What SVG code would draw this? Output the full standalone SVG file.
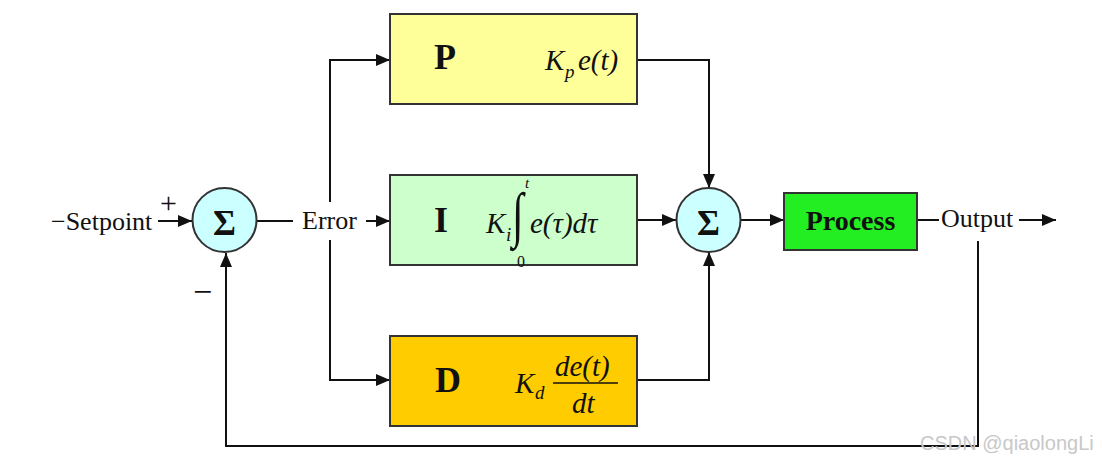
<svg xmlns="http://www.w3.org/2000/svg" width="1102" height="462" viewBox="0 0 1102 462">
<style>
text{font-family:"Liberation Serif","Times New Roman",serif;fill:#111}
.lbl{font-size:26px}
.big{font-size:36px;font-weight:bold}
.sig{font-size:35px;font-weight:bold}
.it{font-style:italic;font-size:29px}
.sub{font-style:italic;font-size:19px}
.box{stroke:#333;stroke-width:2}
.ln{fill:none;stroke:#111;stroke-width:2}
.sum{fill:#ccffff;stroke:#333;stroke-width:2}
</style>
<defs>
<marker id="ahb" viewBox="0 0 14 12" refX="14" refY="6" markerWidth="14" markerHeight="12" markerUnits="userSpaceOnUse" orient="auto">
<path d="M0,0 L14,6 L0,12 z" fill="#111"/>
</marker>
</defs>
<rect width="1102" height="462" fill="#fff"/>
<g id="connectors">
<line class="ln" x1="158" y1="221" x2="192" y2="221" marker-end="url(#ahb)"/>
<line class="ln" x1="257" y1="221" x2="293" y2="221"/>
<line class="ln" x1="366" y1="221" x2="390" y2="221" marker-end="url(#ahb)"/>
<polyline class="ln" points="330,240 330,380 390,380" marker-end="url(#ahb)"/>
<polyline class="ln" points="330,202 330,60 390,60" marker-end="url(#ahb)"/>
<polyline class="ln" points="637,60 709,60 709,188" marker-end="url(#ahb)"/>
<line class="ln" x1="637" y1="220" x2="676" y2="220" marker-end="url(#ahb)"/>
<polyline class="ln" points="637,380 709,380 709,252" marker-end="url(#ahb)"/>
<line class="ln" x1="741" y1="220" x2="784" y2="220" marker-end="url(#ahb)"/>
<line class="ln" x1="917" y1="220" x2="939" y2="220"/>
<line class="ln" x1="1019" y1="220" x2="1056" y2="220" marker-end="url(#ahb)"/>
<polyline class="ln" points="978,241 978,446 226,446 226,253" marker-end="url(#ahb)"/>
</g>
<g id="setpoint"><text class="lbl" x="51" y="230">−Setpoint</text><text style="font-size:30px" x="160" y="213">+</text><text style="font-size:34px" x="193" y="303">−</text></g>
<g id="sum1"><circle class="sum" cx="224.5" cy="220" r="32"/><text class="sig" x="224.5" y="235" text-anchor="middle">Σ</text></g>
<g id="error"><text class="lbl" x="302" y="229">Error</text></g>
<g id="P">
<rect class="box" x="390" y="14" width="247" height="90" fill="#ffff99"/>
<text class="big" x="434" y="69">P</text>
<text class="it" x="545" y="70">K</text><text class="sub" x="565" y="78">p</text><text class="it" x="578" y="70">e(t)</text>
</g>
<g id="I">
<rect class="box" x="390" y="175" width="247" height="90" fill="#ccffcc"/>
<text class="big" x="434" y="232">I</text>
<text class="it" x="486" y="233">K</text><text class="sub" x="506" y="241">i</text>
<text transform="translate(512,235) scale(1,1.45)" style="font-size:42px">∫</text>
<text style="font-size:15px;font-style:italic" x="525" y="188">t</text>
<text style="font-size:16px" x="517" y="267">0</text>
<text class="it" x="530" y="233">e(τ)dτ</text>
</g>
<g id="D">
<rect class="box" x="390" y="336" width="247" height="90" fill="#ffcc00"/>
<text class="big" x="435" y="392">D</text>
<text class="it" x="515" y="393">K</text><text class="sub" x="535" y="399">d</text>
<text class="it" x="555" y="376">de(t)</text>
<line x1="553" y1="383" x2="618" y2="383" stroke="#111" stroke-width="1.5"/>
<text class="it" x="572" y="413">dt</text>
</g>
<g id="sum2"><circle class="sum" cx="708.5" cy="220" r="32"/><text class="sig" x="708.5" y="235" text-anchor="middle">Σ</text></g>
<g id="process"><rect class="box" x="784" y="193" width="133" height="57" fill="#22ee22"/><text x="850.5" y="230" text-anchor="middle" style="font-size:28px;font-weight:bold">Process</text></g>
<g id="output"><text class="lbl" x="941" y="227">Output</text></g>
<text x="920" y="450" style="font-family:'Liberation Sans',Arial,sans-serif;font-size:20px;fill:#c8c8c8">CSDN @qiaolongLi</text>
</svg>
